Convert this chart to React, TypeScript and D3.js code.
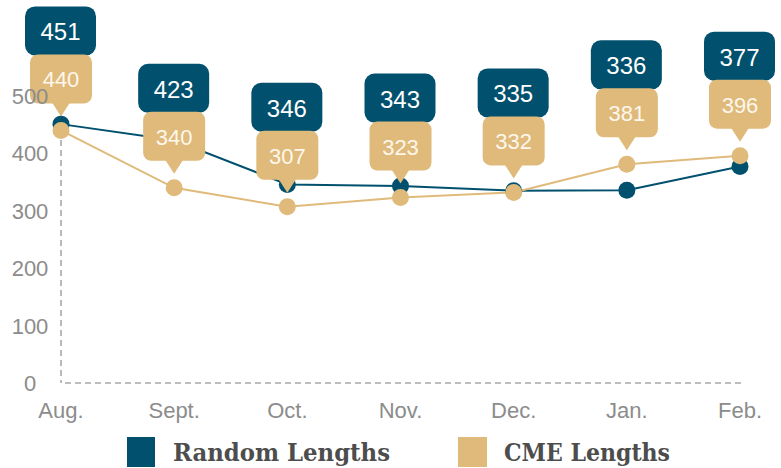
import React from "react";
import * as d3 from "d3";

const months = ["Aug.", "Sept.", "Oct.", "Nov.", "Dec.", "Jan.", "Feb."];
const randomLengths = [451, 423, 346, 343, 335, 336, 377];
const cmeLengths = [440, 340, 307, 323, 332, 381, 396];
const yTicks = [0, 100, 200, 300, 400, 500];

const BLUE = "#00506e";
const TAN = "#dfba7a";
const GRID = "#a8a8a8";
const AXIS_TEXT = "#8c8c8c";

const width = 781;
const height = 468;

const x = d3.scalePoint<string>().domain(months).range([61, 740]);
const y = d3.scaleLinear().domain([0, 500]).range([383, 96]);

const CmeLabel = ({ cx, cy, value }) => {
  const tip = cy - 14;
  const bottom = tip - 13;
  const top = bottom - 49;
  const w = 62;
  return (
    <g>
      <rect x={cx - w / 2} y={top} width={w} height={bottom - top} rx={8} fill={TAN} />
      <path d={`M${cx - 9},${bottom - 1} L${cx + 9},${bottom - 1} L${cx},${tip} Z`} fill={TAN} />
      <text x={cx} y={(top + bottom) / 2 + 1} textAnchor="middle" dominantBaseline="central"
        fill="#fdf7ec" fontSize="22" fontFamily="'Liberation Sans', Arial, sans-serif">{value}</text>
    </g>
  );
};

const RandomLabel = ({ cx, bottom, value }) => {
  const w = 71;
  const h = 49;
  return (
    <g>
      <rect x={cx - w / 2} y={bottom - h} width={w} height={h} rx={10} fill={BLUE} />
      <text x={cx} y={bottom - h / 2 + 1} textAnchor="middle" dominantBaseline="central"
        fill="#ffffff" fontSize="24" fontFamily="'Liberation Sans', Arial, sans-serif">{value}</text>
    </g>
  );
};

const App = () => {
  const line = d3.line<number>()
    .x((_, i) => x(months[i]) as number)
    .y(d => y(d));

  const x0 = x(months[0]) as number;
  const xN = x(months[months.length - 1]) as number;

  return (
    <svg width={width} height={height} style={{ position: "absolute", left: 0, top: 0, background: "#fff" }}
      fontFamily="'Liberation Sans', Arial, sans-serif">
      {/* axes */}
      <line x1={x0} x2={x0} y1={y(500) + 4} y2={y(0)} stroke={GRID} strokeWidth={1.6} strokeDasharray="6,4" />
      <line x1={x0 + 4} x2={xN + 3} y1={y(0)} y2={y(0)} stroke={GRID} strokeWidth={1.6} strokeDasharray="6,4" />
      {months.map(m => (
        <text key={m} x={x(m)} y={418} textAnchor="middle" fontSize="22" fill={AXIS_TEXT}>{m}</text>
      ))}

      {/* series */}
      <path d={line(randomLengths) ?? ""} fill="none" stroke={BLUE} strokeWidth={2} />
      <path d={line(cmeLengths) ?? ""} fill="none" stroke={TAN} strokeWidth={2} />
      {randomLengths.map((d, i) => (
        <circle key={"r" + i} cx={x(months[i])} cy={y(d)} r={8.5} fill={BLUE} />
      ))}
      {cmeLengths.map((d, i) => (
        <circle key={"c" + i} cx={x(months[i])} cy={y(d)} r={8.5} fill={TAN} />
      ))}

      {/* labels */}
      {months.map((m, i) => {
        const cx = x(m) as number;
        const tip = y(cmeLengths[i]) - 14;
        const cmeTop = tip - 13 - 49;
        return (
          <g key={"l" + i}>
            <RandomLabel cx={cx - 0.5} bottom={cmeTop + 1} value={randomLengths[i]} />
            <CmeLabel cx={cx} cy={y(cmeLengths[i])} value={cmeLengths[i]} />
          </g>
        );
      })}

      {yTicks.map(t => (
        <text key={t} x={30} y={y(t) + 8} textAnchor="middle" fontSize="22" fill={AXIS_TEXT}>{t}</text>
      ))}

      {/* legend */}
      <rect x={127} y={437} width={28} height={30} fill={BLUE} />
      <text x={173} y={461} fontSize="24" fontWeight="bold" fill="#4d4d4d"
        fontFamily="'DejaVu Serif Condensed', 'DejaVu Serif', serif"
        textLength={217} lengthAdjust="spacingAndGlyphs">Random Lengths</text>
      <rect x={458} y={437} width={29} height={30} fill={TAN} />
      <text x={504} y={461} fontSize="24" fontWeight="bold" fill="#4d4d4d"
        fontFamily="'DejaVu Serif Condensed', 'DejaVu Serif', serif"
        textLength={166} lengthAdjust="spacingAndGlyphs">CME Lengths</text>
    </svg>
  );
};

export default App;
